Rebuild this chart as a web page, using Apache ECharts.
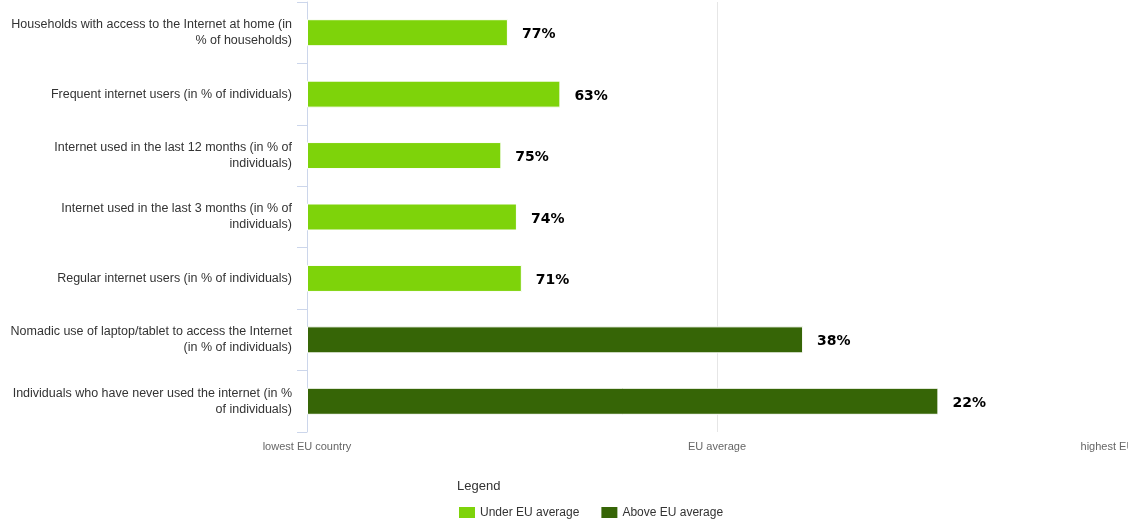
<!DOCTYPE html>
<html>
<head>
<meta charset="utf-8">
<title>Internet use indicators</title>
<script src="https://cdn.jsdelivr.net/npm/echarts@6/dist/echarts.min.js"></script>
<style>
  html, body { margin: 0; padding: 0; background: #ffffff; }
  #chart { width: 1128px; height: 525px; }
</style>
</head>
<body>
<div id="chart"></div>
<script>
// Indicators, top to bottom (line breaks as laid out beside the axis)
const categories = [
  'Households with access to the Internet at home (in\n% of households)',
  'Frequent internet users (in % of individuals)',
  'Internet used in the last 12 months (in % of\nindividuals)',
  'Internet used in the last 3 months (in % of\nindividuals)',
  'Regular internet users (in % of individuals)',
  'Nomadic use of laptop/tablet to access the Internet\n(in % of individuals)',
  'Individuals who have never used the internet (in %\nof individuals)'
];

// Position of the country between the lowest (0) and highest (100) EU country; EU average = 50
const positions = [24.5, 30.9, 23.7, 25.6, 26.2, 60.5, 77.0];

// Country value shown next to each bar
const shownValues = ['77%', '63%', '75%', '74%', '71%', '38%', '22%'];

// Scale landmarks
const scaleTicks = [0, 50, 100];
const scaleLabels = ['lowest EU country', 'EU average', 'highest EU country'];

const EU_AVERAGE = 50;
const underSeries = positions.map(v => (v < EU_AVERAGE ? v : null));
const aboveSeries = positions.map(v => (v >= EU_AVERAGE ? v : null));

const font = '"Liberation Sans", Arial, sans-serif';

const valueLabel = {
  show: true,
  position: 'right',
  distance: 14,
  offset: [0, 2],
  color: '#000000',
  fontWeight: 'bold',
  fontSize: 14,
  fontFamily: '"DejaVu Sans", Verdana, sans-serif',
  formatter: p => shownValues[p.dataIndex]
};

const chart = echarts.init(document.getElementById('chart'), null, { renderer: 'canvas' });

chart.setOption({
  animation: false,
  backgroundColor: '#ffffff',
  textStyle: { fontFamily: font },
  title: {
    text: 'Legend',
    left: 457,
    top: 480,
    padding: 0,
    textStyle: { fontSize: 13, fontWeight: 'normal', color: '#333333', fontFamily: font }
  },
  legend: {
    left: 457,
    top: 505,
    padding: 0,
    itemWidth: 18,
    itemHeight: 13,
    itemGap: 20,
    icon: 'rect',
    textStyle: { fontSize: 12, color: '#333333', fontFamily: font, padding: [0, 0, 0, -1] },
    data: ['Under EU average', 'Above EU average']
  },
  grid: { left: 307, right: 1, top: 2, bottom: 93, containLabel: false, outerBoundsMode: 'none' },
  xAxis: {
    type: 'value',
    min: 0,
    max: 100,
    interval: 50,
    axisLine: { show: false },
    axisTick: { show: false },
    splitLine: { show: false },
    axisLabel: {
      margin: 9,
      color: '#666666',
      fontSize: 11,
      fontFamily: font,
      formatter: v => scaleLabels[scaleTicks.indexOf(v)] || ''
    }
  },
  yAxis: {
    type: 'category',
    inverse: true,
    data: categories,
    axisLine: { show: true, lineStyle: { color: '#ccd6eb', width: 1 } },
    axisTick: { show: true, length: 10, lineStyle: { color: '#ccd6eb' } },
    axisLabel: {
      margin: 15,
      color: '#333333',
      fontSize: 12.5,
      fontFamily: font,
      lineHeight: 16,
      align: 'right'
    }
  },
  series: [
    {
      name: 'Under EU average',
      type: 'bar',
      barWidth: 27,
      barGap: '-100%',
      data: underSeries,
      itemStyle: { color: '#7ed30a', borderColor: '#ffffff', borderWidth: 1 },
      label: valueLabel,
      // EU average reference line, kept behind the bars
      markLine: {
        silent: true,
        z: 0,
        symbol: 'none',
        label: { show: false },
        lineStyle: { color: '#e6e6e6', width: 1, type: 'solid' },
        data: [{ xAxis: EU_AVERAGE }]
      },
      z: 3
    },
    {
      name: 'Above EU average',
      type: 'bar',
      barWidth: 27,
      barGap: '-100%',
      data: aboveSeries,
      itemStyle: { color: '#366506', borderColor: '#ffffff', borderWidth: 1 },
      label: valueLabel,
      z: 3
    }
  ]
});
</script>
</body>
</html>
